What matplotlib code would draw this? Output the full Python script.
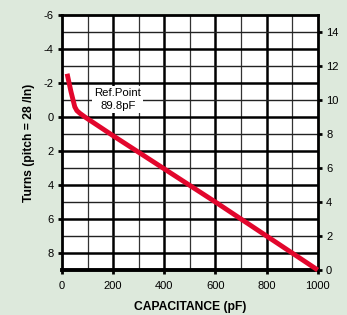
import numpy as np
import matplotlib.pyplot as plt

plt.rcParams['font.family'] = ['Liberation Sans', 'DejaVu Sans']
plt.rcParams['axes.unicode_minus'] = False

# data
cap_pf = [20, 35, 50, 58, 70, 90, 200, 400, 600, 800, 1000]
turns = [-2.55, -1.5, -0.6, -0.38, -0.22, 0.0, 1.1, 3.05, 5.0, 7.0, 9.0]
x_ticks = [0, 200, 400, 600, 800, 1000]
left_ticks = [-6, -4, -2, 0, 2, 4, 6, 8]
right_ticks = [0, 2, 4, 6, 8, 10, 12, 14]
ref_text = "Ref.Point\n89.8pF"

bg = '#dde9dc'
fig = plt.figure(figsize=(3.47, 3.15), dpi=100, facecolor=bg)
ax = fig.add_axes([0.1787, 0.1429, 0.7369, 0.8091])
ax.set_facecolor('white')

ax.set_xlim(0, 1000)
ax.set_ylim(9, -6)

# grid: thin lines at odd hundreds / odd turns, thick at majors
for x in range(100, 1000, 200):
    ax.axvline(x, color='#333333', lw=0.9, zorder=1)
for x in range(200, 1000, 200):
    ax.axvline(x, color='black', lw=1.8, zorder=1)
for y in range(-5, 9, 2):
    ax.axhline(y, color='#222222', lw=1.0, zorder=1)
for y in range(-4, 9, 2):
    ax.axhline(y, color='black', lw=1.8, zorder=1)

ax.plot(cap_pf, turns, color='#e2062c', lw=3.5, solid_capstyle='butt',
        solid_joinstyle='miter', zorder=3, clip_on=False)

ax.text(218, -1.05, ref_text, ha='center', va='center', fontsize=8.2,
        linespacing=1.35, zorder=4,
        bbox=dict(facecolor='white', edgecolor='none', pad=1.5))

for s in ax.spines.values():
    s.set_linewidth(2.0)
ax.spines['bottom'].set_linewidth(2.8)

ax.set_xticks(x_ticks)
ax.set_yticks(left_ticks)
ax.tick_params(axis='both', labelsize=8, length=3, width=2, direction='out',
               pad=3, colors='black')
ax.tick_params(axis='x', pad=5)
ax.set_xlabel('CAPACITANCE (pF)', fontsize=8.7, fontweight='bold', labelpad=7)
ax.set_ylabel('Turns (pitch = 28 /In)', fontsize=8.7, fontweight='bold', labelpad=6)

ax2 = ax.twinx()
ax2.set_ylim(0, 15)
ax2.set_yticks(right_ticks)
ax2.tick_params(axis='y', labelsize=8, length=3, width=2, direction='out', pad=3)
for s in ax2.spines.values():
    s.set_visible(False)

fig.savefig('out.png', dpi=100, facecolor=bg)
